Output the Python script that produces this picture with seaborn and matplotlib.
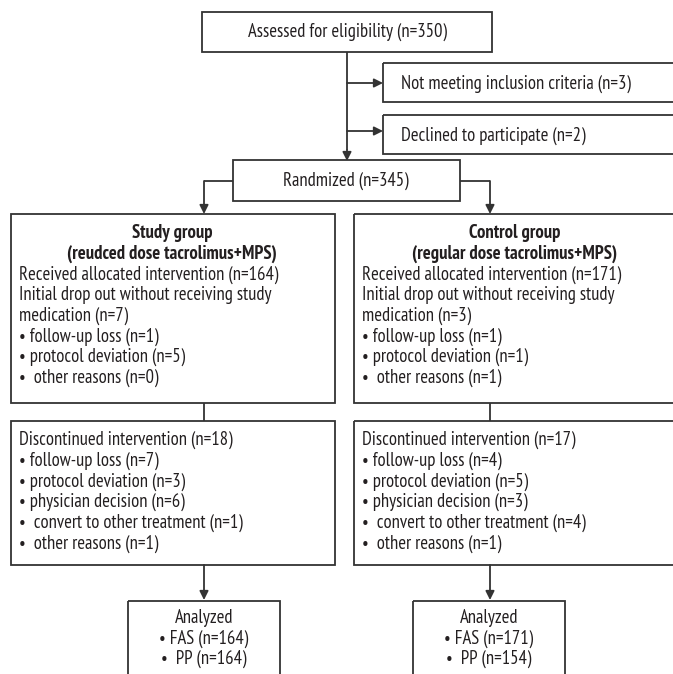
import seaborn as sns
import matplotlib.pyplot as plt
from matplotlib.patches import Rectangle

# flow counts
assessed_n = 350
excluded_labels = ['Not meeting inclusion criteria', 'Declined to participate']
excluded_n = [3, 2]
randomized_n = 345

group_titles = ['Study group', 'Control group']
group_subtitles = ['(reudced dose tacrolimus+MPS)', '(regular dose tacrolimus+MPS)']
received_n = [164, 171]
initial_dropout_n = [7, 3]
dropout_reasons = ['follow-up loss', 'protocol deviation', ' other reasons']
dropout_n = [[1, 5, 0], [1, 1, 1]]

discontinued_n = [18, 17]
disc_reasons = ['follow-up loss', 'protocol deviation', 'physician decision',
                ' convert to other treatment', ' other reasons']
disc_n = [[7, 3, 6, 1, 1], [4, 5, 3, 4, 1]]

fas_n = [164, 171]
pp_n = [164, 154]

sns.set_theme(style='white')
plt.rcParams['font.family'] = ['PT Sans Narrow', 'Fira Sans Condensed', 'DejaVu Sans']

LC = '#333333'
TC = '#231f20'
FS = 13.4
LW = 1.3
STEP = 20.7

fig = plt.figure(figsize=(6.73, 6.74), dpi=100)
ax = fig.add_axes([0, 0, 1, 1])
ax.set_xlim(0, 673)
ax.set_ylim(674, 0)
ax.axis('off')


def box(x0, y0, x1, y1):
    ax.add_patch(Rectangle((x0, y0), x1 - x0, y1 - y0, fill=False,
                           edgecolor=LC, lw=LW, clip_on=True))


def line(xs, ys):
    ax.plot(xs, ys, color=LC, lw=LW, solid_capstyle='butt')


def arrow(x0, y0, x1, y1):
    ax.annotate('', xy=(x1, y1), xytext=(x0, y0),
                arrowprops=dict(arrowstyle='-|>', color=LC, lw=LW,
                                mutation_scale=13, shrinkA=0, shrinkB=0))


def txt(x, y, s, ha='left', bold=False):
    ax.text(x, y + 1, s, ha=ha, va='center', fontsize=FS, color=TC,
            fontweight='bold' if bold else 'normal')


# top
box(202, 12, 492, 52)
txt(347, 31, f'Assessed for eligibility (n={assessed_n})', ha='center')
line([347, 347], [52, 150])
arrow(347, 150, 347, 161)
for i, (lab, n) in enumerate(zip(excluded_labels, excluded_n)):
    yt, yb = [(63, 102), (115, 154)][i]
    box(383, yt, 680, yb)
    ym = [83, 131][i]
    arrow(347, ym, 383, ym)
    txt(401, (yt + yb) / 2, f'{lab} (n={n})')

# randomized
box(233, 160, 460, 201)
txt(346, 180, f'Randmized (n={randomized_n})', ha='center')
line([233, 204], [181, 181])
arrow(204, 181, 204, 214)
line([460, 490], [181, 181])
arrow(490, 181, 490, 214)

lefts = [11, 354]
centers = [204, 490]
an_boxes = [(128, 280), (413, 565)]
for g in range(2):
    x0 = lefts[g]
    x1 = x0 + 324
    cx = (x0 + x1) / 2 - 1
    tx = x0 + 8
    box(x0, 214, x1, 403)
    y = 232
    txt(cx, y, group_titles[g], ha='center', bold=True)
    y += STEP
    txt(cx, y, group_subtitles[g], ha='center', bold=True)
    y += STEP
    txt(tx, y, f'Received allocated intervention (n={received_n[g]})')
    y += STEP
    txt(tx, y, 'Initial drop out without receiving study')
    y += STEP
    txt(tx, y, f'medication (n={initial_dropout_n[g]})')
    for r, n in zip(dropout_reasons, dropout_n[g]):
        y += STEP
        txt(tx, y, f'\u2022 {r} (n={n})')

    line([centers[g], centers[g]], [403, 421])

    box(x0, 421, x1, 565)
    y = 439
    txt(tx, y, f'Discontinued intervention (n={discontinued_n[g]})')
    for r, n in zip(disc_reasons, disc_n[g]):
        y += STEP
        txt(tx, y, f'\u2022 {r} (n={n})')

    arrow(centers[g], 565, centers[g], 600)
    ax0, ax1 = an_boxes[g]
    box(ax0, 601, ax1, 690)
    acx = (ax0 + ax1) / 2
    txt(acx, 617, 'Analyzed', ha='center')
    txt(acx, 637.5, f'\u2022 FAS (n={fas_n[g]})', ha='center')
    txt(acx, 658, f'\u2022  PP (n={pp_n[g]})', ha='center')

fig.savefig('out.png', dpi=100)
